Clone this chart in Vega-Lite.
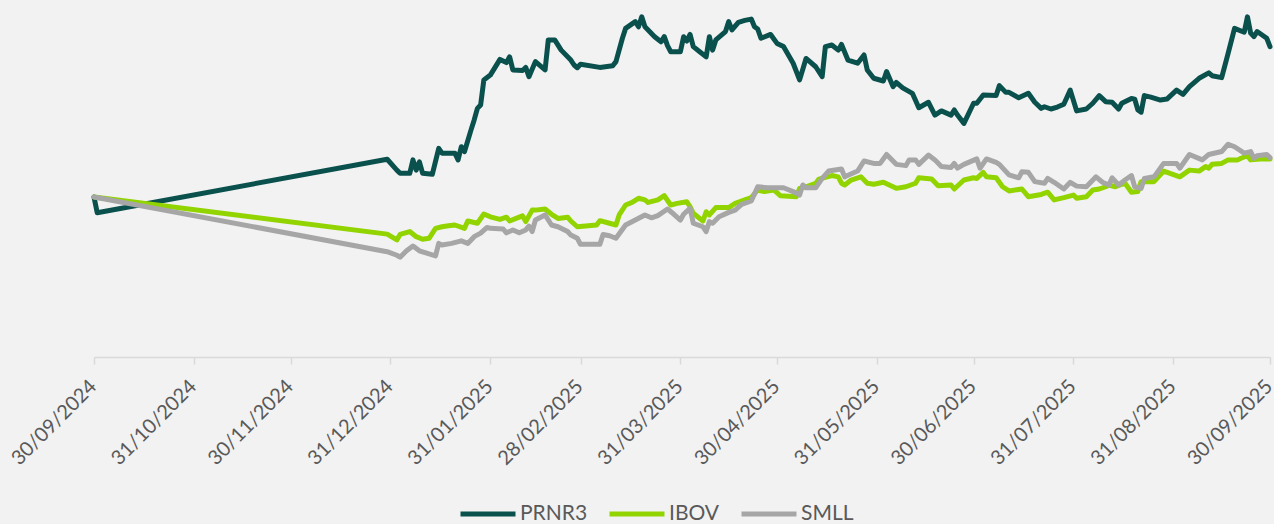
{
"$schema":"https://vega.github.io/schema/vega-lite/v6.json",
"width":1176,"height":352,
"autosize":{"type":"none"},
"padding":{"left":94,"top":5,"right":4,"bottom":167},
"background":"#F2F2F2",
"config":{"view":{"stroke":null},"font":"Lato"},
"data":{"values":[
{"d":"2024-09-30","s":"PRNR3","v":100},
{"d":"2024-10-01","s":"PRNR3","v":95.1},
{"d":"2024-12-30","s":"PRNR3","v":111.8},
{"d":"2025-01-02","s":"PRNR3","v":108.4},
{"d":"2025-01-03","s":"PRNR3","v":107.4},
{"d":"2025-01-06","s":"PRNR3","v":107.4},
{"d":"2025-01-07","s":"PRNR3","v":111.6},
{"d":"2025-01-08","s":"PRNR3","v":108.4},
{"d":"2025-01-09","s":"PRNR3","v":111.0},
{"d":"2025-01-10","s":"PRNR3","v":107.4},
{"d":"2025-01-13","s":"PRNR3","v":107.1},
{"d":"2025-01-15","s":"PRNR3","v":115.2},
{"d":"2025-01-16","s":"PRNR3","v":113.7},
{"d":"2025-01-20","s":"PRNR3","v":113.7},
{"d":"2025-01-21","s":"PRNR3","v":111.6},
{"d":"2025-01-22","s":"PRNR3","v":115.7},
{"d":"2025-01-23","s":"PRNR3","v":114.2},
{"d":"2025-01-25","s":"PRNR3","v":120.9},
{"d":"2025-01-26","s":"PRNR3","v":124.1},
{"d":"2025-01-27","s":"PRNR3","v":127.7},
{"d":"2025-01-28","s":"PRNR3","v":128.75},
{"d":"2025-01-29","s":"PRNR3","v":136.6},
{"d":"2025-01-31","s":"PRNR3","v":138.1},
{"d":"2025-02-03","s":"PRNR3","v":143.0},
{"d":"2025-02-05","s":"PRNR3","v":142.0},
{"d":"2025-02-06","s":"PRNR3","v":143.8},
{"d":"2025-02-07","s":"PRNR3","v":139.7},
{"d":"2025-02-10","s":"PRNR3","v":139.5},
{"d":"2025-02-11","s":"PRNR3","v":140.5},
{"d":"2025-02-12","s":"PRNR3","v":137.6},
{"d":"2025-02-14","s":"PRNR3","v":142.3},
{"d":"2025-02-17","s":"PRNR3","v":139.7},
{"d":"2025-02-18","s":"PRNR3","v":149.1},
{"d":"2025-02-20","s":"PRNR3","v":149.1},
{"d":"2025-02-22","s":"PRNR3","v":145.9},
{"d":"2025-02-25","s":"PRNR3","v":142.8},
{"d":"2025-02-26","s":"PRNR3","v":141.25},
{"d":"2025-02-27","s":"PRNR3","v":140.4},
{"d":"2025-02-28","s":"PRNR3","v":141.5},
{"d":"2025-03-06","s":"PRNR3","v":140.5},
{"d":"2025-03-10","s":"PRNR3","v":141.0},
{"d":"2025-03-11","s":"PRNR3","v":142.3},
{"d":"2025-03-13","s":"PRNR3","v":149.6},
{"d":"2025-03-14","s":"PRNR3","v":152.7},
{"d":"2025-03-17","s":"PRNR3","v":154.8},
{"d":"2025-03-18","s":"PRNR3","v":153.2},
{"d":"2025-03-19","s":"PRNR3","v":156.3},
{"d":"2025-03-20","s":"PRNR3","v":153.2},
{"d":"2025-03-23","s":"PRNR3","v":150.1},
{"d":"2025-03-25","s":"PRNR3","v":148.5},
{"d":"2025-03-26","s":"PRNR3","v":150.1},
{"d":"2025-03-27","s":"PRNR3","v":147.3},
{"d":"2025-03-28","s":"PRNR3","v":145.4},
{"d":"2025-03-31","s":"PRNR3","v":145.4},
{"d":"2025-04-01","s":"PRNR3","v":150.1},
{"d":"2025-04-02","s":"PRNR3","v":148.75},
{"d":"2025-04-03","s":"PRNR3","v":150.8},
{"d":"2025-04-04","s":"PRNR3","v":147.0},
{"d":"2025-04-06","s":"PRNR3","v":145.4},
{"d":"2025-04-08","s":"PRNR3","v":143.8},
{"d":"2025-04-09","s":"PRNR3","v":150.1},
{"d":"2025-04-10","s":"PRNR3","v":145.9},
{"d":"2025-04-11","s":"PRNR3","v":149.1},
{"d":"2025-04-14","s":"PRNR3","v":151.7},
{"d":"2025-04-15","s":"PRNR3","v":154.8},
{"d":"2025-04-16","s":"PRNR3","v":152.2},
{"d":"2025-04-18","s":"PRNR3","v":154.6},
{"d":"2025-04-20","s":"PRNR3","v":155.2},
{"d":"2025-04-22","s":"PRNR3","v":155.6},
{"d":"2025-04-23","s":"PRNR3","v":153.2},
{"d":"2025-04-24","s":"PRNR3","v":152.5},
{"d":"2025-04-25","s":"PRNR3","v":149.6},
{"d":"2025-04-28","s":"PRNR3","v":150.8},
{"d":"2025-04-30","s":"PRNR3","v":148.0},
{"d":"2025-05-02","s":"PRNR3","v":147.0},
{"d":"2025-05-05","s":"PRNR3","v":141.8},
{"d":"2025-05-07","s":"PRNR3","v":136.6},
{"d":"2025-05-09","s":"PRNR3","v":143.3},
{"d":"2025-05-12","s":"PRNR3","v":140.7},
{"d":"2025-05-14","s":"PRNR3","v":137.6},
{"d":"2025-05-15","s":"PRNR3","v":147.0},
{"d":"2025-05-17","s":"PRNR3","v":147.5},
{"d":"2025-05-19","s":"PRNR3","v":145.9},
{"d":"2025-05-20","s":"PRNR3","v":147.7},
{"d":"2025-05-22","s":"PRNR3","v":142.8},
{"d":"2025-05-25","s":"PRNR3","v":141.8},
{"d":"2025-05-27","s":"PRNR3","v":144.4},
{"d":"2025-05-28","s":"PRNR3","v":139.7},
{"d":"2025-05-30","s":"PRNR3","v":137.1},
{"d":"2025-06-02","s":"PRNR3","v":136.25},
{"d":"2025-06-03","s":"PRNR3","v":139.2},
{"d":"2025-06-05","s":"PRNR3","v":134.5},
{"d":"2025-06-06","s":"PRNR3","v":135.8},
{"d":"2025-06-08","s":"PRNR3","v":134.1},
{"d":"2025-06-11","s":"PRNR3","v":132.4},
{"d":"2025-06-13","s":"PRNR3","v":127.9},
{"d":"2025-06-16","s":"PRNR3","v":129.6},
{"d":"2025-06-18","s":"PRNR3","v":125.6},
{"d":"2025-06-20","s":"PRNR3","v":126.9},
{"d":"2025-06-23","s":"PRNR3","v":125.6},
{"d":"2025-06-24","s":"PRNR3","v":127.2},
{"d":"2025-06-25","s":"PRNR3","v":125.6},
{"d":"2025-06-27","s":"PRNR3","v":123.0},
{"d":"2025-06-30","s":"PRNR3","v":129.3},
{"d":"2025-07-01","s":"PRNR3","v":129.3},
{"d":"2025-07-03","s":"PRNR3","v":131.9},
{"d":"2025-07-07","s":"PRNR3","v":131.7},
{"d":"2025-07-08","s":"PRNR3","v":134.8},
{"d":"2025-07-10","s":"PRNR3","v":132.7},
{"d":"2025-07-11","s":"PRNR3","v":132.7},
{"d":"2025-07-14","s":"PRNR3","v":131.0},
{"d":"2025-07-17","s":"PRNR3","v":132.4},
{"d":"2025-07-19","s":"PRNR3","v":129.6},
{"d":"2025-07-21","s":"PRNR3","v":127.7},
{"d":"2025-07-22","s":"PRNR3","v":128.2},
{"d":"2025-07-24","s":"PRNR3","v":127.5},
{"d":"2025-07-26","s":"PRNR3","v":128.1},
{"d":"2025-07-28","s":"PRNR3","v":129.0},
{"d":"2025-07-30","s":"PRNR3","v":133.4},
{"d":"2025-08-01","s":"PRNR3","v":126.9},
{"d":"2025-08-04","s":"PRNR3","v":127.5},
{"d":"2025-08-06","s":"PRNR3","v":129.3},
{"d":"2025-08-08","s":"PRNR3","v":131.7},
{"d":"2025-08-10","s":"PRNR3","v":129.8},
{"d":"2025-08-12","s":"PRNR3","v":129.6},
{"d":"2025-08-14","s":"PRNR3","v":127.5},
{"d":"2025-08-15","s":"PRNR3","v":129.3},
{"d":"2025-08-18","s":"PRNR3","v":130.8},
{"d":"2025-08-19","s":"PRNR3","v":130.6},
{"d":"2025-08-20","s":"PRNR3","v":127.2},
{"d":"2025-08-21","s":"PRNR3","v":126.5},
{"d":"2025-08-22","s":"PRNR3","v":131.7},
{"d":"2025-08-24","s":"PRNR3","v":131.2},
{"d":"2025-08-27","s":"PRNR3","v":130.3},
{"d":"2025-08-29","s":"PRNR3","v":130.6},
{"d":"2025-09-01","s":"PRNR3","v":133.4},
{"d":"2025-09-03","s":"PRNR3","v":132.1},
{"d":"2025-09-05","s":"PRNR3","v":134.5},
{"d":"2025-09-08","s":"PRNR3","v":137.1},
{"d":"2025-09-11","s":"PRNR3","v":138.8},
{"d":"2025-09-12","s":"PRNR3","v":137.9},
{"d":"2025-09-15","s":"PRNR3","v":137.3},
{"d":"2025-09-17","s":"PRNR3","v":144.9},
{"d":"2025-09-19","s":"PRNR3","v":152.7},
{"d":"2025-09-22","s":"PRNR3","v":151.5},
{"d":"2025-09-23","s":"PRNR3","v":156.3},
{"d":"2025-09-24","s":"PRNR3","v":151.2},
{"d":"2025-09-25","s":"PRNR3","v":150.1},
{"d":"2025-09-26","s":"PRNR3","v":151.7},
{"d":"2025-09-29","s":"PRNR3","v":149.6},
{"d":"2025-09-30","s":"PRNR3","v":147.0},
{"d":"2024-09-30","s":"IBOV","v":100},
{"d":"2024-12-30","s":"IBOV","v":88.4},
{"d":"2025-01-02","s":"IBOV","v":86.6},
{"d":"2025-01-03","s":"IBOV","v":88.3},
{"d":"2025-01-06","s":"IBOV","v":89.2},
{"d":"2025-01-08","s":"IBOV","v":87.6},
{"d":"2025-01-10","s":"IBOV","v":86.8},
{"d":"2025-01-12","s":"IBOV","v":87.1},
{"d":"2025-01-14","s":"IBOV","v":90.2},
{"d":"2025-01-16","s":"IBOV","v":90.7},
{"d":"2025-01-18","s":"IBOV","v":91.0},
{"d":"2025-01-20","s":"IBOV","v":91.25},
{"d":"2025-01-23","s":"IBOV","v":90.2},
{"d":"2025-01-24","s":"IBOV","v":92.5},
{"d":"2025-01-27","s":"IBOV","v":91.8},
{"d":"2025-01-29","s":"IBOV","v":94.7},
{"d":"2025-01-31","s":"IBOV","v":93.8},
{"d":"2025-02-03","s":"IBOV","v":93.0},
{"d":"2025-02-05","s":"IBOV","v":93.7},
{"d":"2025-02-06","s":"IBOV","v":92.5},
{"d":"2025-02-08","s":"IBOV","v":93.3},
{"d":"2025-02-10","s":"IBOV","v":94.1},
{"d":"2025-02-11","s":"IBOV","v":92.3},
{"d":"2025-02-13","s":"IBOV","v":95.9},
{"d":"2025-02-14","s":"IBOV","v":95.9},
{"d":"2025-02-17","s":"IBOV","v":96.25},
{"d":"2025-02-19","s":"IBOV","v":94.6},
{"d":"2025-02-21","s":"IBOV","v":93.3},
{"d":"2025-02-24","s":"IBOV","v":93.7},
{"d":"2025-02-25","s":"IBOV","v":92.5},
{"d":"2025-02-27","s":"IBOV","v":90.7},
{"d":"2025-03-05","s":"IBOV","v":91.25},
{"d":"2025-03-06","s":"IBOV","v":92.6},
{"d":"2025-03-09","s":"IBOV","v":91.8},
{"d":"2025-03-11","s":"IBOV","v":91.25},
{"d":"2025-03-12","s":"IBOV","v":94.4},
{"d":"2025-03-14","s":"IBOV","v":97.5},
{"d":"2025-03-16","s":"IBOV","v":98.3},
{"d":"2025-03-18","s":"IBOV","v":99.6},
{"d":"2025-03-20","s":"IBOV","v":99.1},
{"d":"2025-03-21","s":"IBOV","v":98.3},
{"d":"2025-03-24","s":"IBOV","v":99.1},
{"d":"2025-03-26","s":"IBOV","v":100.4},
{"d":"2025-03-28","s":"IBOV","v":97.5},
{"d":"2025-03-30","s":"IBOV","v":98.0},
{"d":"2025-04-02","s":"IBOV","v":98.5},
{"d":"2025-04-03","s":"IBOV","v":97.0},
{"d":"2025-04-04","s":"IBOV","v":94.9},
{"d":"2025-04-06","s":"IBOV","v":93.3},
{"d":"2025-04-07","s":"IBOV","v":92.5},
{"d":"2025-04-08","s":"IBOV","v":95.4},
{"d":"2025-04-09","s":"IBOV","v":94.4},
{"d":"2025-04-11","s":"IBOV","v":96.7},
{"d":"2025-04-15","s":"IBOV","v":96.7},
{"d":"2025-04-17","s":"IBOV","v":98.0},
{"d":"2025-04-20","s":"IBOV","v":99.1},
{"d":"2025-04-22","s":"IBOV","v":99.8},
{"d":"2025-04-24","s":"IBOV","v":102.2},
{"d":"2025-04-26","s":"IBOV","v":101.7},
{"d":"2025-04-29","s":"IBOV","v":102.2},
{"d":"2025-05-01","s":"IBOV","v":100.4},
{"d":"2025-05-06","s":"IBOV","v":100.1},
{"d":"2025-05-07","s":"IBOV","v":102.7},
{"d":"2025-05-09","s":"IBOV","v":103.2},
{"d":"2025-05-12","s":"IBOV","v":104.3},
{"d":"2025-05-13","s":"IBOV","v":105.6},
{"d":"2025-05-17","s":"IBOV","v":106.7},
{"d":"2025-05-19","s":"IBOV","v":106.3},
{"d":"2025-05-20","s":"IBOV","v":104.3},
{"d":"2025-05-21","s":"IBOV","v":103.75},
{"d":"2025-05-23","s":"IBOV","v":105.3},
{"d":"2025-05-26","s":"IBOV","v":106.3},
{"d":"2025-05-28","s":"IBOV","v":104.3},
{"d":"2025-05-30","s":"IBOV","v":104.0},
{"d":"2025-06-02","s":"IBOV","v":104.6},
{"d":"2025-06-06","s":"IBOV","v":102.7},
{"d":"2025-06-09","s":"IBOV","v":103.2},
{"d":"2025-06-12","s":"IBOV","v":104.3},
{"d":"2025-06-13","s":"IBOV","v":106.0},
{"d":"2025-06-17","s":"IBOV","v":105.6},
{"d":"2025-06-19","s":"IBOV","v":103.5},
{"d":"2025-06-23","s":"IBOV","v":103.75},
{"d":"2025-06-24","s":"IBOV","v":102.5},
{"d":"2025-06-27","s":"IBOV","v":105.3},
{"d":"2025-06-30","s":"IBOV","v":106.0},
{"d":"2025-07-01","s":"IBOV","v":105.8},
{"d":"2025-07-03","s":"IBOV","v":107.7},
{"d":"2025-07-04","s":"IBOV","v":106.3},
{"d":"2025-07-07","s":"IBOV","v":106.0},
{"d":"2025-07-09","s":"IBOV","v":103.2},
{"d":"2025-07-11","s":"IBOV","v":101.9},
{"d":"2025-07-15","s":"IBOV","v":102.5},
{"d":"2025-07-17","s":"IBOV","v":100.1},
{"d":"2025-07-21","s":"IBOV","v":100.8},
{"d":"2025-07-23","s":"IBOV","v":101.5},
{"d":"2025-07-25","s":"IBOV","v":99.1},
{"d":"2025-07-28","s":"IBOV","v":99.8},
{"d":"2025-07-31","s":"IBOV","v":100.6},
{"d":"2025-08-01","s":"IBOV","v":99.6},
{"d":"2025-08-04","s":"IBOV","v":100.1},
{"d":"2025-08-06","s":"IBOV","v":102.2},
{"d":"2025-08-08","s":"IBOV","v":102.5},
{"d":"2025-08-10","s":"IBOV","v":103.2},
{"d":"2025-08-11","s":"IBOV","v":103.75},
{"d":"2025-08-13","s":"IBOV","v":103.2},
{"d":"2025-08-16","s":"IBOV","v":104.3},
{"d":"2025-08-18","s":"IBOV","v":101.5},
{"d":"2025-08-20","s":"IBOV","v":101.7},
{"d":"2025-08-21","s":"IBOV","v":104.8},
{"d":"2025-08-25","s":"IBOV","v":104.8},
{"d":"2025-08-28","s":"IBOV","v":108.1},
{"d":"2025-09-02","s":"IBOV","v":106.3},
{"d":"2025-09-05","s":"IBOV","v":108.4},
{"d":"2025-09-08","s":"IBOV","v":108.1},
{"d":"2025-09-10","s":"IBOV","v":109.5},
{"d":"2025-09-11","s":"IBOV","v":109.0},
{"d":"2025-09-12","s":"IBOV","v":110.2},
{"d":"2025-09-15","s":"IBOV","v":110.5},
{"d":"2025-09-17","s":"IBOV","v":111.6},
{"d":"2025-09-20","s":"IBOV","v":111.6},
{"d":"2025-09-21","s":"IBOV","v":112.1},
{"d":"2025-09-23","s":"IBOV","v":112.9},
{"d":"2025-09-24","s":"IBOV","v":111.6},
{"d":"2025-09-27","s":"IBOV","v":111.9},
{"d":"2025-09-30","s":"IBOV","v":111.9},
{"d":"2024-09-30","s":"SMLL","v":100},
{"d":"2024-12-30","s":"SMLL","v":82.9},
{"d":"2025-01-02","s":"SMLL","v":81.8},
{"d":"2025-01-03","s":"SMLL","v":81.2},
{"d":"2025-01-05","s":"SMLL","v":83.2},
{"d":"2025-01-07","s":"SMLL","v":84.7},
{"d":"2025-01-09","s":"SMLL","v":83.2},
{"d":"2025-01-12","s":"SMLL","v":82.2},
{"d":"2025-01-14","s":"SMLL","v":81.6},
{"d":"2025-01-15","s":"SMLL","v":85.5},
{"d":"2025-01-16","s":"SMLL","v":85.0},
{"d":"2025-01-19","s":"SMLL","v":85.5},
{"d":"2025-01-22","s":"SMLL","v":86.3},
{"d":"2025-01-24","s":"SMLL","v":85.5},
{"d":"2025-01-26","s":"SMLL","v":87.6},
{"d":"2025-01-28","s":"SMLL","v":88.7},
{"d":"2025-01-30","s":"SMLL","v":90.5},
{"d":"2025-01-31","s":"SMLL","v":90.2},
{"d":"2025-02-04","s":"SMLL","v":90.0},
{"d":"2025-02-05","s":"SMLL","v":88.8},
{"d":"2025-02-07","s":"SMLL","v":89.7},
{"d":"2025-02-09","s":"SMLL","v":88.8},
{"d":"2025-02-11","s":"SMLL","v":89.7},
{"d":"2025-02-12","s":"SMLL","v":90.9},
{"d":"2025-02-13","s":"SMLL","v":89.2},
{"d":"2025-02-14","s":"SMLL","v":92.8},
{"d":"2025-02-17","s":"SMLL","v":94.4},
{"d":"2025-02-19","s":"SMLL","v":91.25},
{"d":"2025-02-21","s":"SMLL","v":90.7},
{"d":"2025-02-24","s":"SMLL","v":89.2},
{"d":"2025-02-25","s":"SMLL","v":88.1},
{"d":"2025-02-27","s":"SMLL","v":87.1},
{"d":"2025-02-28","s":"SMLL","v":85.2},
{"d":"2025-03-06","s":"SMLL","v":85.2},
{"d":"2025-03-07","s":"SMLL","v":88.3},
{"d":"2025-03-09","s":"SMLL","v":87.9},
{"d":"2025-03-11","s":"SMLL","v":87.1},
{"d":"2025-03-14","s":"SMLL","v":91.25},
{"d":"2025-03-17","s":"SMLL","v":92.8},
{"d":"2025-03-20","s":"SMLL","v":94.4},
{"d":"2025-03-22","s":"SMLL","v":93.5},
{"d":"2025-03-24","s":"SMLL","v":94.2},
{"d":"2025-03-27","s":"SMLL","v":96.25},
{"d":"2025-03-29","s":"SMLL","v":94.6},
{"d":"2025-03-31","s":"SMLL","v":92.8},
{"d":"2025-04-01","s":"SMLL","v":94.6},
{"d":"2025-04-03","s":"SMLL","v":96.5},
{"d":"2025-04-04","s":"SMLL","v":91.8},
{"d":"2025-04-07","s":"SMLL","v":90.7},
{"d":"2025-04-08","s":"SMLL","v":89.2},
{"d":"2025-04-09","s":"SMLL","v":92.3},
{"d":"2025-04-10","s":"SMLL","v":91.8},
{"d":"2025-04-12","s":"SMLL","v":93.8},
{"d":"2025-04-15","s":"SMLL","v":95.2},
{"d":"2025-04-17","s":"SMLL","v":95.9},
{"d":"2025-04-19","s":"SMLL","v":97.7},
{"d":"2025-04-22","s":"SMLL","v":98.75},
{"d":"2025-04-24","s":"SMLL","v":103.2},
{"d":"2025-04-27","s":"SMLL","v":102.9},
{"d":"2025-05-02","s":"SMLL","v":102.9},
{"d":"2025-05-05","s":"SMLL","v":101.7},
{"d":"2025-05-07","s":"SMLL","v":100.6},
{"d":"2025-05-08","s":"SMLL","v":103.75},
{"d":"2025-05-09","s":"SMLL","v":102.9},
{"d":"2025-05-12","s":"SMLL","v":102.9},
{"d":"2025-05-14","s":"SMLL","v":105.8},
{"d":"2025-05-16","s":"SMLL","v":108.1},
{"d":"2025-05-20","s":"SMLL","v":108.75},
{"d":"2025-05-21","s":"SMLL","v":106.3},
{"d":"2025-05-25","s":"SMLL","v":108.1},
{"d":"2025-05-27","s":"SMLL","v":111.25},
{"d":"2025-05-30","s":"SMLL","v":110.5},
{"d":"2025-06-01","s":"SMLL","v":110.5},
{"d":"2025-06-03","s":"SMLL","v":113.3},
{"d":"2025-06-06","s":"SMLL","v":110.2},
{"d":"2025-06-09","s":"SMLL","v":109.8},
{"d":"2025-06-10","s":"SMLL","v":111.6},
{"d":"2025-06-12","s":"SMLL","v":111.6},
{"d":"2025-06-13","s":"SMLL","v":110.2},
{"d":"2025-06-16","s":"SMLL","v":113.1},
{"d":"2025-06-18","s":"SMLL","v":111.6},
{"d":"2025-06-20","s":"SMLL","v":109.5},
{"d":"2025-06-23","s":"SMLL","v":109.2},
{"d":"2025-06-24","s":"SMLL","v":110.5},
{"d":"2025-06-25","s":"SMLL","v":109.0},
{"d":"2025-06-27","s":"SMLL","v":110.2},
{"d":"2025-07-01","s":"SMLL","v":111.9},
{"d":"2025-07-02","s":"SMLL","v":109.0},
{"d":"2025-07-04","s":"SMLL","v":111.9},
{"d":"2025-07-07","s":"SMLL","v":110.8},
{"d":"2025-07-08","s":"SMLL","v":110.2},
{"d":"2025-07-11","s":"SMLL","v":106.9},
{"d":"2025-07-14","s":"SMLL","v":106.0},
{"d":"2025-07-15","s":"SMLL","v":107.9},
{"d":"2025-07-17","s":"SMLL","v":107.7},
{"d":"2025-07-19","s":"SMLL","v":104.8},
{"d":"2025-07-22","s":"SMLL","v":104.3},
{"d":"2025-07-23","s":"SMLL","v":105.8},
{"d":"2025-07-25","s":"SMLL","v":104.6},
{"d":"2025-07-28","s":"SMLL","v":102.5},
{"d":"2025-07-30","s":"SMLL","v":104.6},
{"d":"2025-08-01","s":"SMLL","v":103.4},
{"d":"2025-08-04","s":"SMLL","v":103.2},
{"d":"2025-08-07","s":"SMLL","v":106.3},
{"d":"2025-08-09","s":"SMLL","v":104.6},
{"d":"2025-08-11","s":"SMLL","v":103.75},
{"d":"2025-08-12","s":"SMLL","v":106.0},
{"d":"2025-08-14","s":"SMLL","v":103.75},
{"d":"2025-08-16","s":"SMLL","v":105.3},
{"d":"2025-08-18","s":"SMLL","v":106.7},
{"d":"2025-08-19","s":"SMLL","v":103.2},
{"d":"2025-08-21","s":"SMLL","v":102.7},
{"d":"2025-08-22","s":"SMLL","v":105.8},
{"d":"2025-08-25","s":"SMLL","v":106.3},
{"d":"2025-08-28","s":"SMLL","v":110.5},
{"d":"2025-09-01","s":"SMLL","v":110.5},
{"d":"2025-09-02","s":"SMLL","v":109.0},
{"d":"2025-09-05","s":"SMLL","v":113.3},
{"d":"2025-09-09","s":"SMLL","v":111.6},
{"d":"2025-09-11","s":"SMLL","v":113.3},
{"d":"2025-09-15","s":"SMLL","v":114.2},
{"d":"2025-09-17","s":"SMLL","v":116.5},
{"d":"2025-09-19","s":"SMLL","v":115.7},
{"d":"2025-09-22","s":"SMLL","v":113.7},
{"d":"2025-09-24","s":"SMLL","v":114.2},
{"d":"2025-09-25","s":"SMLL","v":112.1},
{"d":"2025-09-26","s":"SMLL","v":112.9},
{"d":"2025-09-29","s":"SMLL","v":113.3},
{"d":"2025-09-30","s":"SMLL","v":112.3}
]},
"mark":{"type":"line","strokeWidth":5,"strokeJoin":"round","strokeCap":"round"},
"encoding":{
"x":{"field":"d","type":"temporal",
"scale":{"type":"utc","domain":[{"year":2024,"month":9,"date":30,"utc":true},{"year":2025,"month":9,"date":30,"utc":true}]},
"axis":{"title":null,"grid":false,
"values":[{"year":2024,"month":9,"date":30,"utc":true},{"year":2024,"month":10,"date":31,"utc":true},{"year":2024,"month":11,"date":30,"utc":true},{"year":2024,"month":12,"date":31,"utc":true},{"year":2025,"month":1,"date":31,"utc":true},{"year":2025,"month":2,"date":28,"utc":true},{"year":2025,"month":3,"date":31,"utc":true},{"year":2025,"month":4,"date":30,"utc":true},{"year":2025,"month":5,"date":31,"utc":true},{"year":2025,"month":6,"date":30,"utc":true},{"year":2025,"month":7,"date":31,"utc":true},{"year":2025,"month":8,"date":31,"utc":true},{"year":2025,"month":9,"date":30,"utc":true}],
"labelExpr":"utcFormat(datum.value,'%d/%m/%Y')",
"labelAngle":-45,"labelFontSize":20,"labelColor":"#595959","labelFont":"Lato",
"labelPadding":12,"labelOffset":-8,"labelFlush":false,"labelOverlap":false,"labelBound":false,
"domainColor":"#D9D9D9","domainWidth":1.5,"tickColor":"#D9D9D9","tickWidth":1.5,"tickSize":7}},
"y":{"field":"v","type":"quantitative","scale":{"domain":[50,160],"zero":false,"nice":false},"axis":null},
"color":{"field":"s","type":"nominal",
"scale":{"domain":["PRNR3","IBOV","SMLL"],"range":["#0A514D","#92D400","#A6A6A6"]},
"legend":{"title":null,"orient":"none","legendX":364,"legendY":479,"direction":"horizontal",
"symbolType":"stroke","symbolSize":3025,"symbolStrokeWidth":5,
"labelFontSize":21,"labelColor":"#595959","labelFont":"Lato","labelOffset":2,"columnPadding":11}}
}
}
